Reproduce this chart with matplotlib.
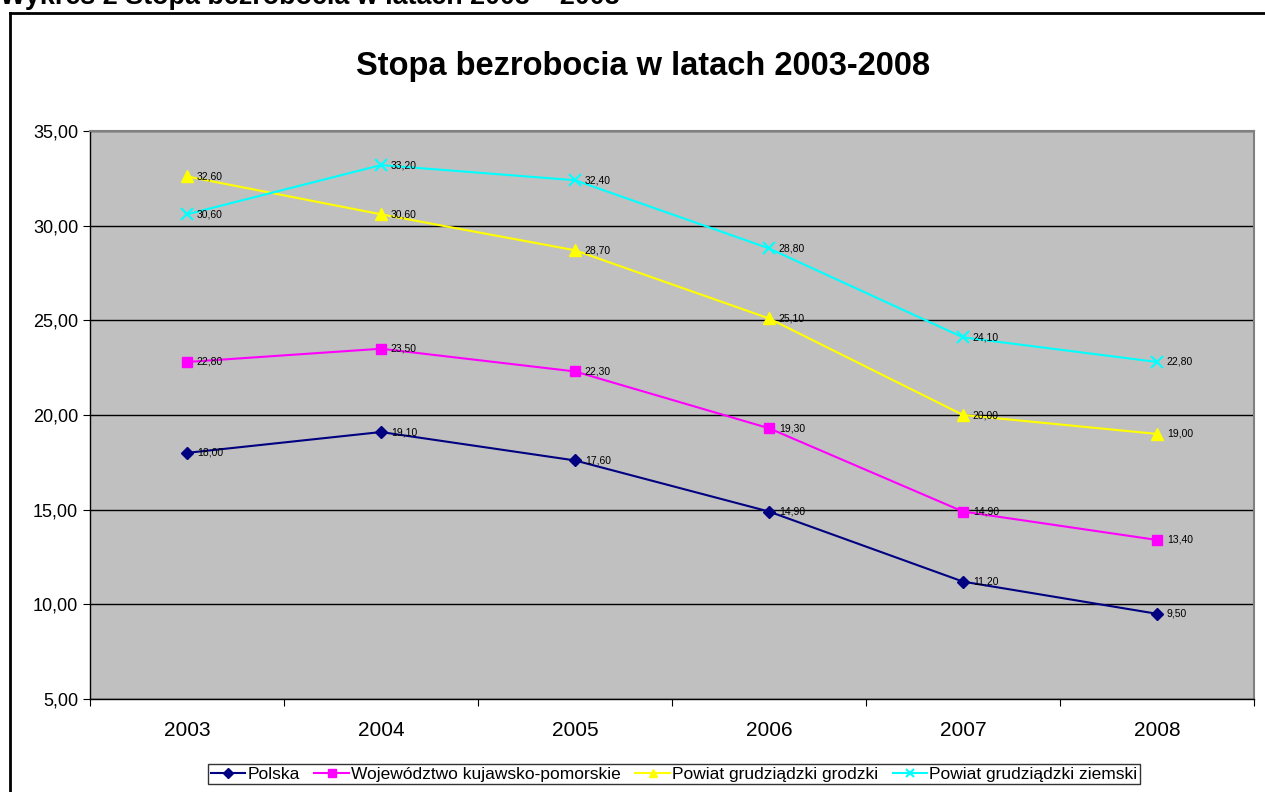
"""Line chart of unemployment rate 2003-2008 (Excel-style look)."""

import numpy as np
import matplotlib
matplotlib.use("Agg")
import matplotlib.pyplot as plt
from matplotlib.lines import Line2D

plt.rcParams["font.family"] = ["Liberation Sans", "DejaVu Sans"]

years = ["2003", "2004", "2005", "2006", "2007", "2008"]
polska = [18.00, 19.10, 17.60, 14.90, 11.20, 9.50]
wojewodztwo = [22.80, 23.50, 22.30, 19.30, 14.90, 13.40]
grodzki = [32.60, 30.60, 28.70, 25.10, 20.00, 19.00]
ziemski = [30.60, 33.20, 32.40, 28.80, 24.10, 22.80]

series = [
    ("Polska", polska, "#000080", "D", 6),
    ("Województwo kujawsko-pomorskie", wojewodztwo, "#FF00FF", "s", 7),
    ("Powiat grudziądzki grodzki", grodzki, "#FFFF00", "^", 8),
    ("Powiat grudziądzki ziemski", ziemski, "#00FFFF", "x", 8),
]

fig = plt.figure(figsize=(12.65, 7.92), dpi=100)
W, H = 1265, 792

# header text, cut off at the top like in the source document
fig.text(0.0, 1 - 4 / H, "Wykres 2 Stopa bezrobocia w latach 2003 \u2013 2008",
         fontsize=19.4, fontweight="bold", ha="left", va="baseline")

# chart frame (only left and top edges are visible)
fig.add_artist(Line2D([10 / W, 10 / W], [0, 1 - 13 / H], color="black", lw=2))
fig.add_artist(Line2D([10 / W, 1], [1 - 13 / H, 1 - 13 / H], color="black", lw=2))

fig.text(643 / W, 1 - 66 / H, "Stopa bezrobocia w latach 2003-2008",
         fontsize=23.5, fontweight="bold", ha="center", va="center")

ax = fig.add_axes([90 / W, 1 - 699 / H, 1164 / W, 568 / H])
ax.set_facecolor("#C0C0C0")

x = np.arange(len(years))
handles = []
for name, vals, col, mk, ms in series:
    if mk == "x":
        h, = ax.plot(x, vals, color=col, lw=1.5, marker=mk, ms=ms, mew=1.5,
                     label=name, zorder=3)
    else:
        h, = ax.plot(x, vals, color=col, lw=1.5, marker=mk, ms=ms,
                     mec=col, mfc=col, label=name, zorder=3)
    handles.append(h)
    for xi, v in zip(x, vals):
        ax.annotate(f"{v:.2f}".replace(".", ","), (xi, v), xytext=(7, 0),
                    textcoords="offset points", fontsize=7.5, va="center",
                    ha="left", zorder=4)

ax.set_xlim(-0.5, len(years) - 0.5)
ax.set_ylim(5, 35)
ax.set_yticks(np.arange(5, 36, 5))
ax.set_yticklabels([f"{v:.2f}".replace(".", ",") for v in np.arange(5, 36, 5)],
                   fontsize=13)
ax.yaxis.grid(True, color="black", lw=1)
ax.set_axisbelow(True)

ax.set_xticks(np.arange(-0.5, len(years), 1.0))
ax.set_xticklabels([])
ax.set_xticks(x, minor=True)
ax.set_xticklabels(years, minor=True, fontsize=15)
ax.tick_params(axis="x", which="minor", length=0, pad=15.5)
ax.tick_params(axis="x", which="major", length=5, direction="out", color="black")
ax.tick_params(axis="y", length=5, direction="out", color="black")

for side in ["top", "right"]:
    ax.spines[side].set_color("#808080")
    ax.spines[side].set_linewidth(1.5)
for side in ["left", "bottom"]:
    ax.spines[side].set_color("black")
    ax.spines[side].set_linewidth(1)

leg = fig.legend(handles=handles, loc="center", bbox_to_anchor=(674 / W, 1 - 774 / H),
                 ncol=4, fontsize=12.5, frameon=True, fancybox=False,
                 edgecolor="black", handlelength=2.0, handletextpad=0.1,
                 columnspacing=0.85, borderpad=0.15, borderaxespad=0,
                 markerscale=0.8)
leg.get_frame().set_linewidth(1)

fig.savefig("out.png", dpi=100, facecolor="white")
